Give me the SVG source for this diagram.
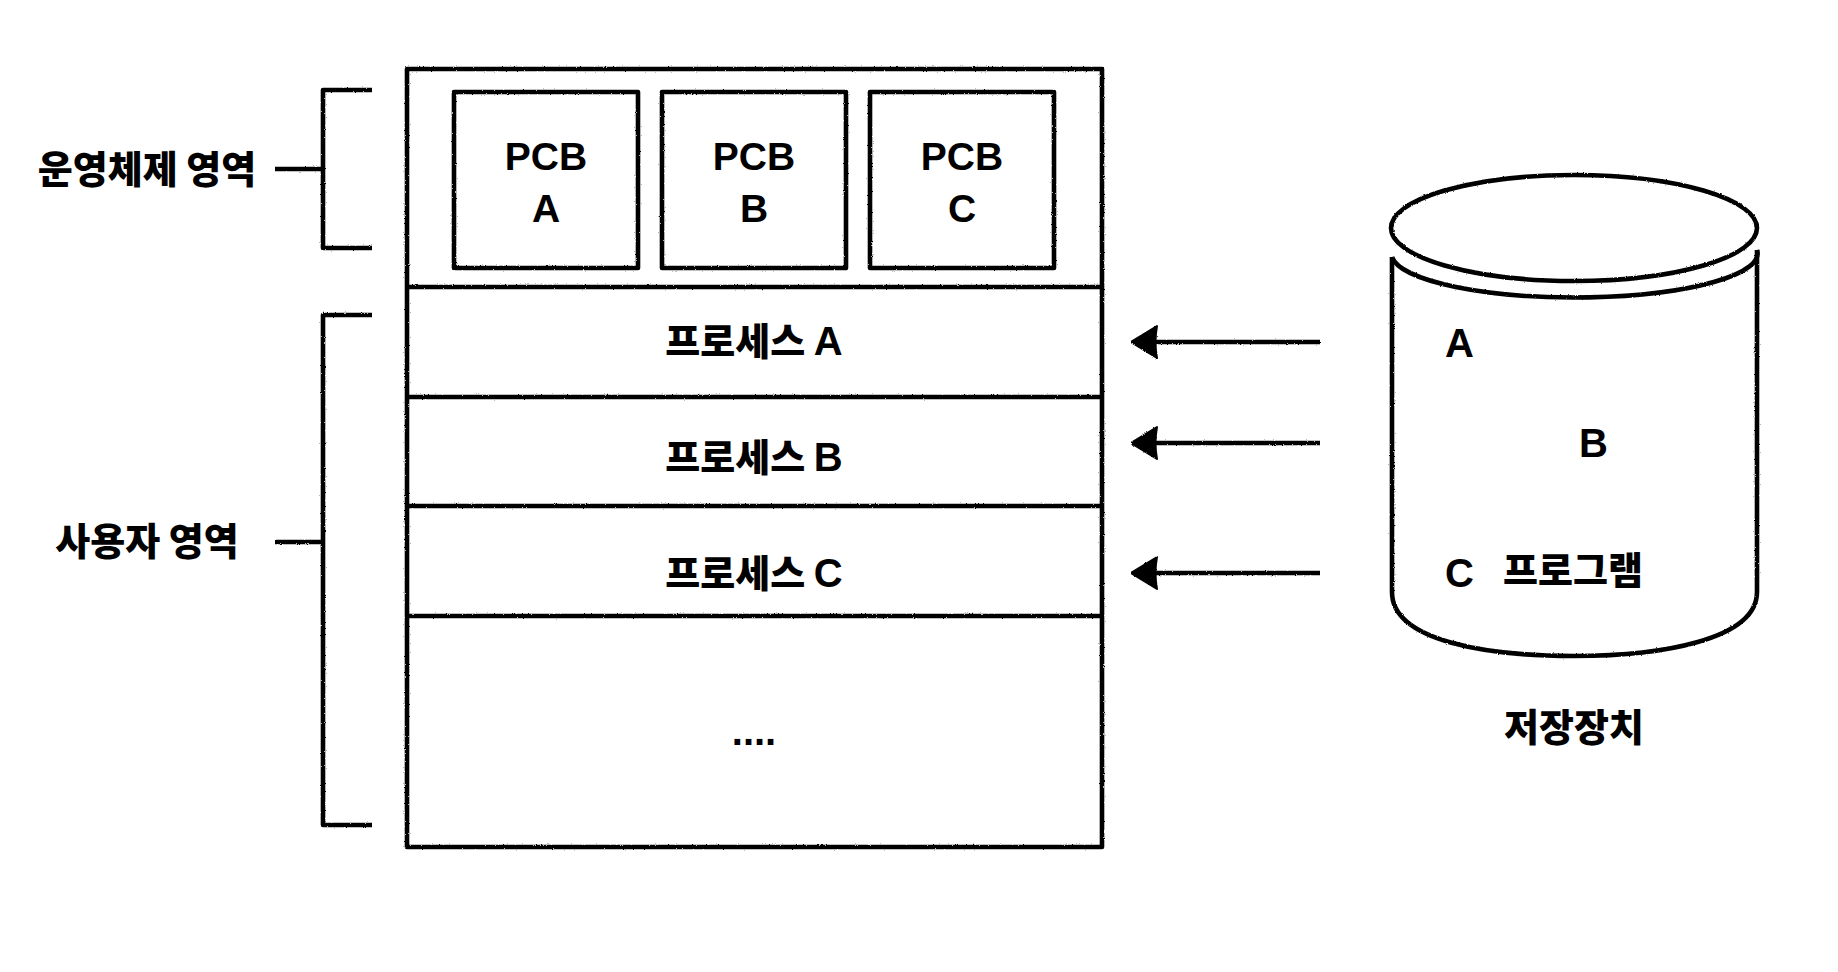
<svg xmlns="http://www.w3.org/2000/svg" width="1838" height="972" viewBox="0 0 1838 972">
<style>
  .s { fill: none; stroke: #000; stroke-width: 4.6; stroke-linejoin: round; stroke-linecap: butt; }
  .t { font-family: "Noto Sans CJK KR", "Liberation Sans", sans-serif; font-weight: 800; font-size: 38px; fill: #000; }
  .lat { font-family: "Liberation Sans", "Noto Sans CJK KR", sans-serif; font-weight: bold; font-size: 40px; }
  .pcb { font-family: "Liberation Sans", sans-serif; font-weight: bold; font-size: 39px; fill: #000; text-anchor: middle; }
  .mid { text-anchor: middle; }
</style>
<defs>
  <filter id="rough" filterUnits="userSpaceOnUse" x="0" y="0" width="1838" height="972">
    <feTurbulence type="fractalNoise" baseFrequency="0.9" numOctaves="2" seed="4" result="n"/>
    <feDisplacementMap in="SourceGraphic" in2="n" scale="2.2" xChannelSelector="R" yChannelSelector="G"/>
  </filter>
  <marker id="arrow" markerUnits="userSpaceOnUse" viewBox="0 0 27 36" markerWidth="27" markerHeight="36" refX="8" refY="18" orient="auto">
    <path d="M1,2 L27,18 L1,34 Q4,18 1,2 Z" fill="#000" stroke="#000" stroke-width="2" stroke-linejoin="round"/>
  </marker>
</defs>
<rect x="0" y="0" width="1838" height="972" fill="#fff"/>

<g id="os-bracket">
  <path class="s" filter="url(#rough)" d="M372,90 L323,90 L323,248 L372,248 M275,169 L323,169"/>
  <text class="t mid" x="147" y="183">운영체제 영역</text>
</g>

<g id="user-bracket">
  <path class="s" filter="url(#rough)" d="M372,315 L323,315 L323,825 L372,825 M275,542 L323,542"/>
  <text class="t mid" x="147" y="555">사용자 영역</text>
</g>

<g id="memory">
  <rect class="s" filter="url(#rough)" x="407" y="69" width="695" height="778"/>
  <path class="s" filter="url(#rough)" d="M407,287 L1102,287 M407,397 L1102,397 M407,506 L1102,506 M407,616 L1102,616"/>
</g>

<g id="pcb-a">
  <rect class="s" filter="url(#rough)" x="454" y="92" width="184" height="176"/>
  <text class="pcb" x="546" y="170">PCB</text>
  <text class="pcb" x="546" y="222">A</text>
</g>
<g id="pcb-b">
  <rect class="s" filter="url(#rough)" x="662" y="92" width="184" height="176"/>
  <text class="pcb" x="754" y="170">PCB</text>
  <text class="pcb" x="754" y="222">B</text>
</g>
<g id="pcb-c">
  <rect class="s" filter="url(#rough)" x="870" y="92" width="184" height="176"/>
  <text class="pcb" x="962" y="170">PCB</text>
  <text class="pcb" x="962" y="222">C</text>
</g>

<g id="process-a">
  <text class="t mid" x="754" y="355">프로세스 <tspan class="lat">A</tspan></text>
</g>
<g id="process-b">
  <text class="t mid" x="754" y="471">프로세스 <tspan class="lat">B</tspan></text>
</g>
<g id="process-c">
  <text class="t mid" x="754" y="587">프로세스 <tspan class="lat">C</tspan></text>
</g>
<g id="etc">
  <text class="lat mid" x="754" y="745" style="font-size:40px">....</text>
</g>

<g id="storage">
  <g filter="url(#rough)">
    <ellipse class="s" cx="1574" cy="228" rx="183" ry="53"/>
    <path class="s" d="M1392,257 A183,44 0 0,0 1757,250"/>
    <path class="s" d="M1392,257 L1392,592 C1392,642 1490,656 1574,656 C1660,656 1757,640 1757,592 L1757,250"/>
  </g>
  <text class="lat" x="1445" y="357">A</text>
  <text class="lat" x="1579" y="457">B</text>
  <text class="lat" x="1445" y="587">C</text>
  <text class="t" x="1503" y="584">프로그램</text>
  <text class="t mid" x="1574" y="741">저장장치</text>
</g>

<g id="connectors" filter="url(#rough)">
  <line class="s" x1="1320" y1="342" x2="1150" y2="342" marker-end="url(#arrow)"/>
  <line class="s" x1="1320" y1="443" x2="1150" y2="443" marker-end="url(#arrow)"/>
  <line class="s" x1="1320" y1="573" x2="1150" y2="573" marker-end="url(#arrow)"/>
</g>
</svg>
